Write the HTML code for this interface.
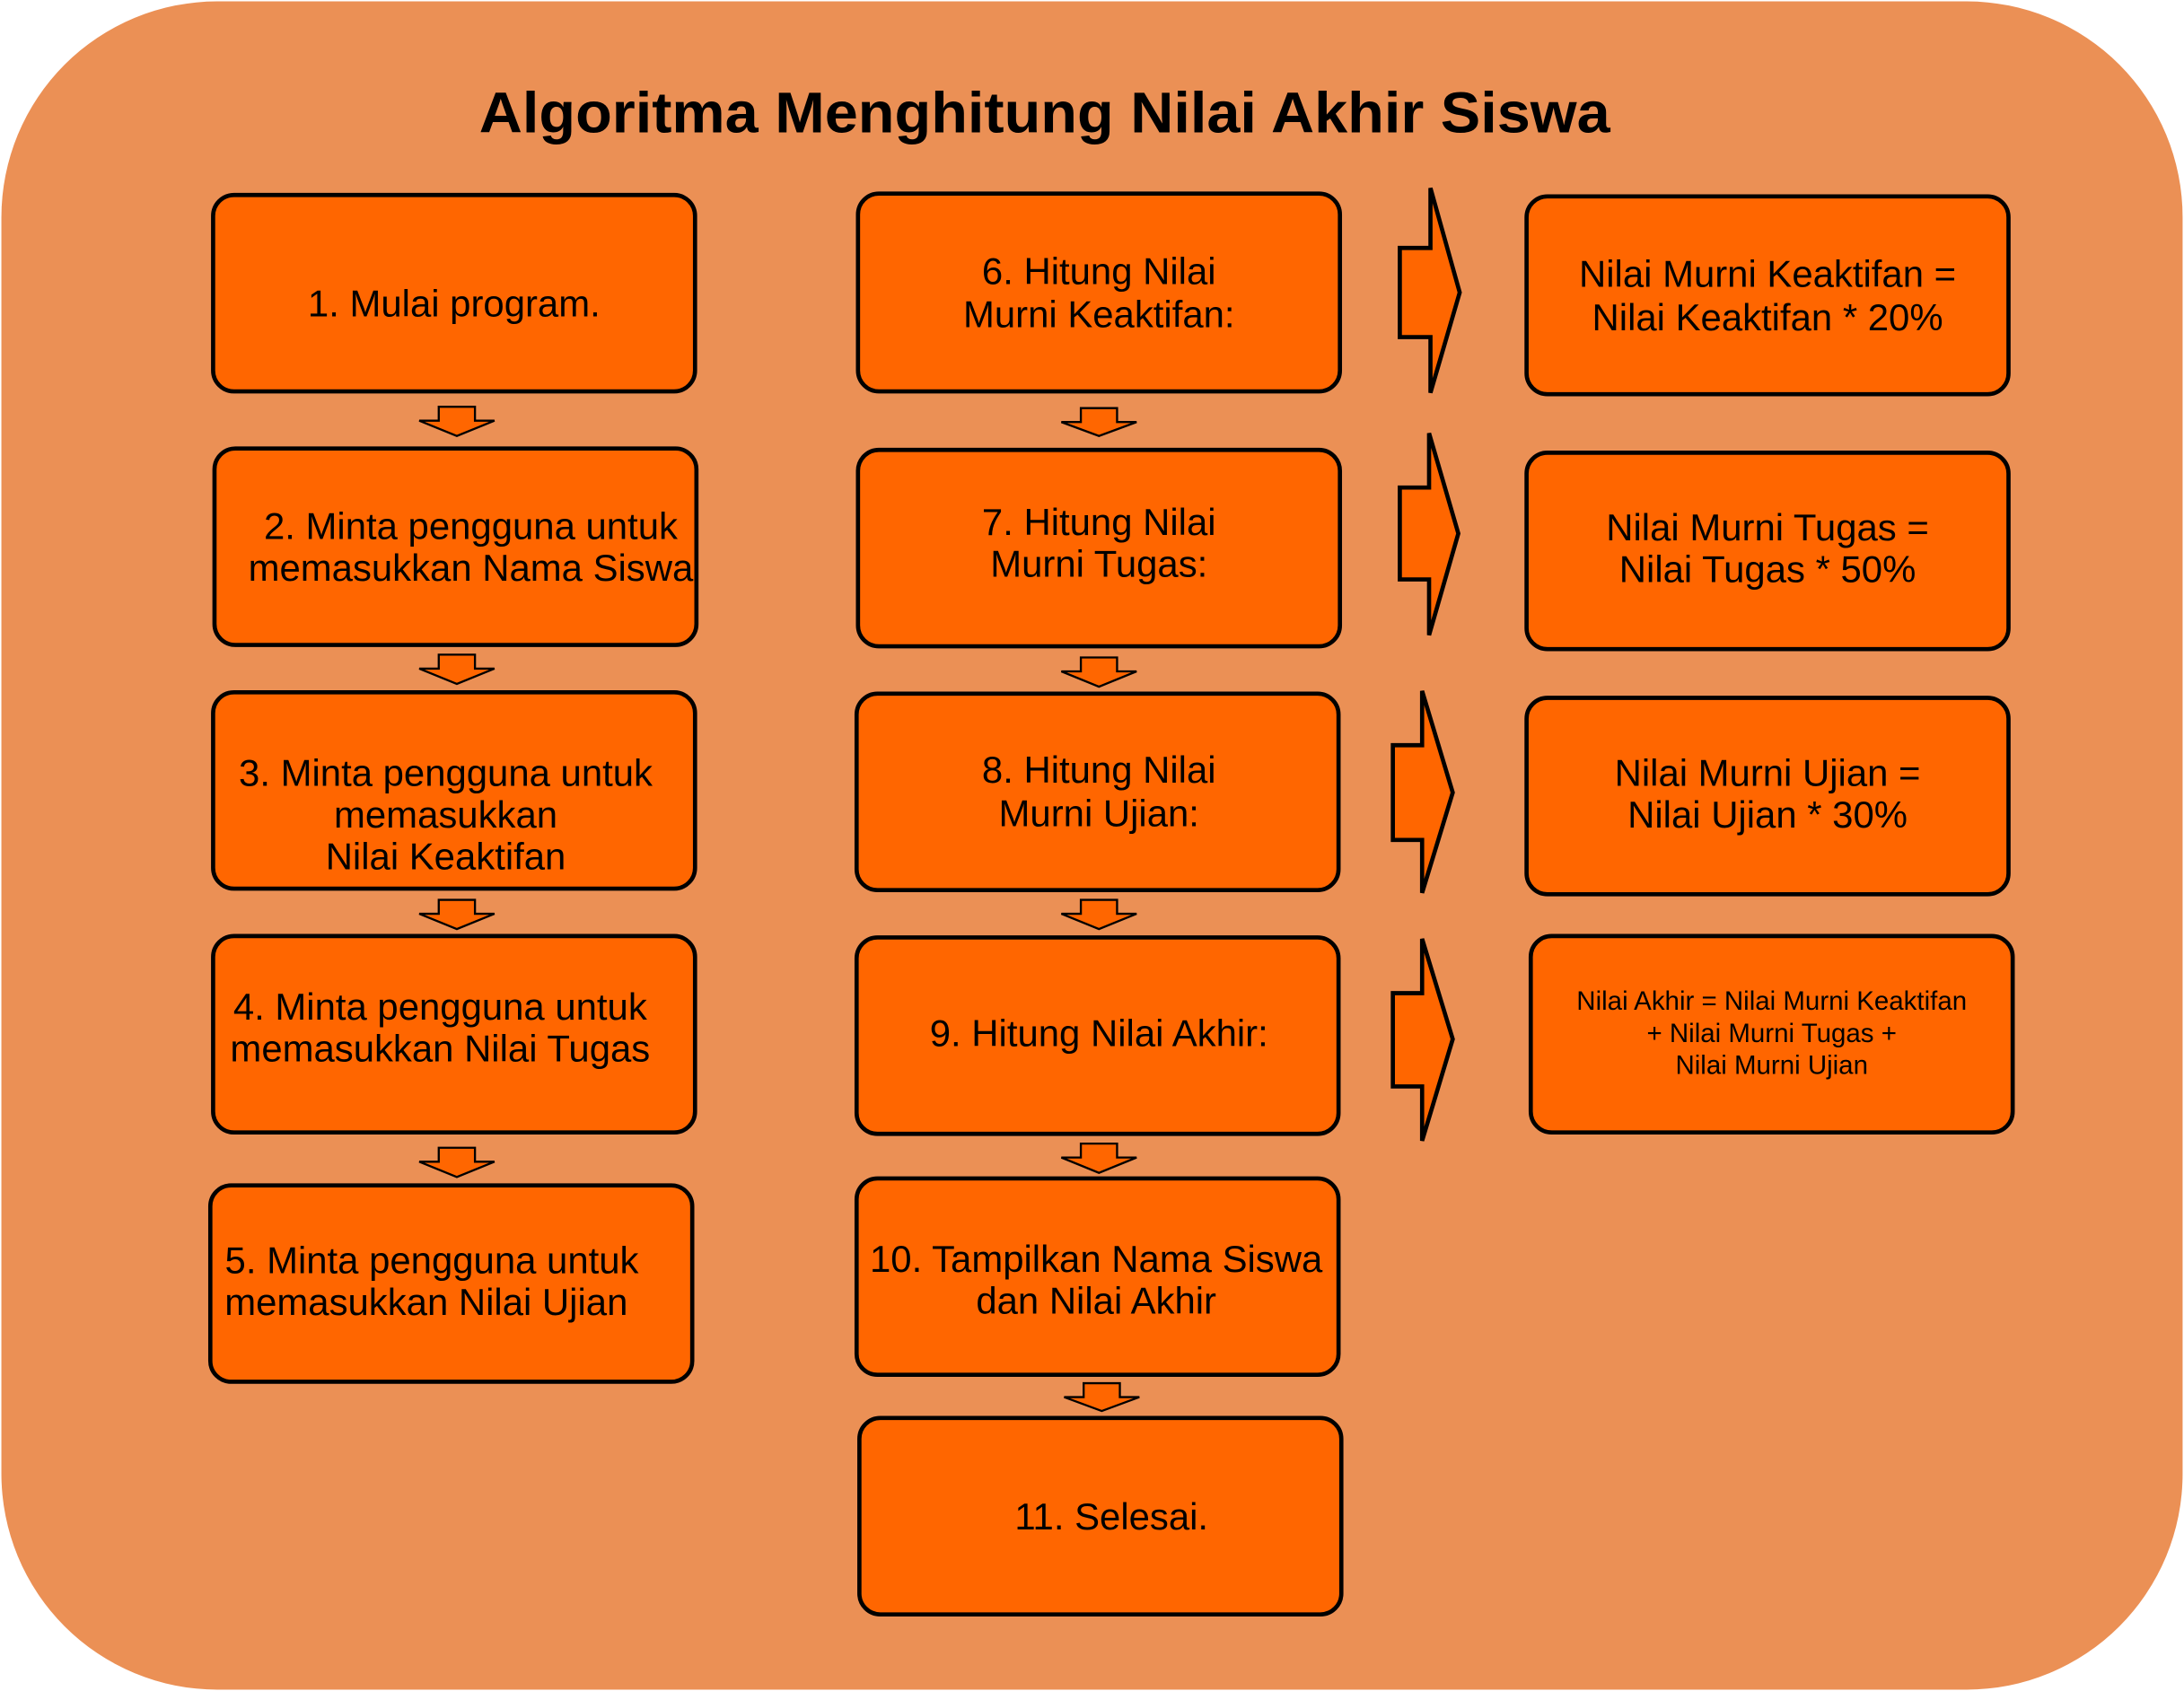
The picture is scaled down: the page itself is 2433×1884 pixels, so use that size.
<!DOCTYPE html>
<html><head><meta charset="utf-8"><style>
html,body{margin:0;padding:0;background:#fff;}
svg{display:block;}
text{font-family:"Liberation Sans",Arial,sans-serif;fill:#000;}
</style></head><body>
<svg width="2433" height="1884" viewBox="0 0 1568 1214" preserveAspectRatio="none" xmlns="http://www.w3.org/2000/svg">
<rect x="1" y="1" width="1566" height="1212" rx="155" ry="155" fill="#EB9055"/>
<text x="750" y="95" font-size="41" font-weight="bold" text-anchor="middle" textLength="812" lengthAdjust="spacingAndGlyphs">Algoritma Menghitung Nilai Akhir Siswa</text>
<g fill="#FF6600" stroke="#000" stroke-width="3">
<rect x="153" y="140" width="346" height="141" rx="15"/>
<rect x="154" y="322" width="346" height="141" rx="15"/>
<rect x="153" y="497" width="346" height="141" rx="15"/>
<rect x="153" y="672" width="346" height="141" rx="15"/>
<rect x="151" y="851" width="346" height="141" rx="15"/>
<rect x="616" y="139" width="346" height="142" rx="15"/>
<rect x="616" y="323" width="346" height="141" rx="15"/>
<rect x="615" y="498" width="346" height="141" rx="15"/>
<rect x="615" y="673" width="346" height="141" rx="15"/>
<rect x="615" y="846" width="346" height="141" rx="15"/>
<rect x="617" y="1018" width="346" height="141" rx="15"/>
<rect x="1096" y="141" width="346" height="142" rx="15"/>
<rect x="1096" y="325" width="346" height="141" rx="15"/>
<rect x="1096" y="501" width="346" height="141" rx="15"/>
<rect x="1099" y="672" width="346" height="141" rx="15"/>
</g>
<g fill="#FF6600" stroke="#000" stroke-width="1.5">
<!-- down arrows col1 -->
<path d="M315,292 H341 V302 H355 L328,313 L301,302 H315 Z"/>
<path d="M315,470 H341 V480 H355 L328,491 L301,480 H315 Z"/>
<path d="M315,646 H341 V656 H355 L328,667 L301,656 H315 Z"/>
<path d="M315,824 H341 V834 H355 L328,845 L301,834 H315 Z"/>
<!-- col2 -->
<path d="M776,293 H802 V303 H816 L789,313 L762,303 H776 Z"/>
<path d="M776,472 H802 V482 H816 L789,493 L762,482 H776 Z"/>
<path d="M776,646 H802 V656 H816 L789,667 L762,656 H776 Z"/>
<path d="M776,821 H802 V831 H816 L789,842 L762,831 H776 Z"/>
<path d="M778,993 H804 V1003 H818 L791,1013 L764,1003 H778 Z"/>
</g>
<g fill="#FF6600" stroke="#000" stroke-width="3">
<path d="M1005,178 H1027 V135 L1048,210 L1027,282 V242 H1005 Z"/>
<path d="M1005,350 H1026 V311 L1047,383 L1026,456 V416 H1005 Z"/>
<path d="M1000,535 H1021 V496 L1043,569 L1021,641 V603 H1000 Z"/>
<path d="M1000,713 H1021 V674 L1043,746 L1021,819 V780 H1000 Z"/>
</g>
<g font-size="27" text-anchor="middle">
<text x="326" y="227">1. Mulai program.</text>
<text x="338" y="387">2. Minta pengguna untuk</text>
<text x="338" y="417">memasukkan Nama Siswa</text>
<text x="320" y="564">3. Minta pengguna untuk</text>
<text x="320" y="594">memasukkan</text>
<text x="320" y="624">Nilai Keaktifan</text>
<text x="316" y="732">4. Minta pengguna untuk</text>
<text x="316" y="762">memasukkan Nilai Tugas</text>
<text x="310" y="914">5. Minta pengguna untuk</text>
<text x="306" y="944">memasukkan Nilai Ujian</text>
<text x="789" y="204">6. Hitung Nilai</text>
<text x="789" y="235">Murni Keaktifan:</text>
<text x="789" y="384">7. Hitung Nilai</text>
<text x="789" y="414">Murni Tugas:</text>
<text x="789" y="562">8. Hitung Nilai</text>
<text x="789" y="593">Murni Ujian:</text>
<text x="789" y="751">9. Hitung Nilai Akhir:</text>
<text x="787" y="913">10. Tampilkan Nama Siswa</text>
<text x="787" y="943">dan Nilai Akhir</text>
<text x="798" y="1098">11. Selesai.</text>
<text x="1269" y="206">Nilai Murni Keaktifan =</text>
<text x="1269" y="237">Nilai Keaktifan * 20%</text>
<text x="1269" y="388">Nilai Murni Tugas =</text>
<text x="1269" y="418">Nilai Tugas * 50%</text>
<text x="1269" y="564">Nilai Murni Ujian =</text>
<text x="1269" y="594">Nilai Ujian * 30%</text>
</g>
<g font-size="19" text-anchor="middle">
<text x="1272" y="725">Nilai Akhir = Nilai Murni Keaktifan</text>
<text x="1272" y="748">+ Nilai Murni Tugas +</text>
<text x="1272" y="771">Nilai Murni Ujian</text>
</g>
</svg>
</body></html>
